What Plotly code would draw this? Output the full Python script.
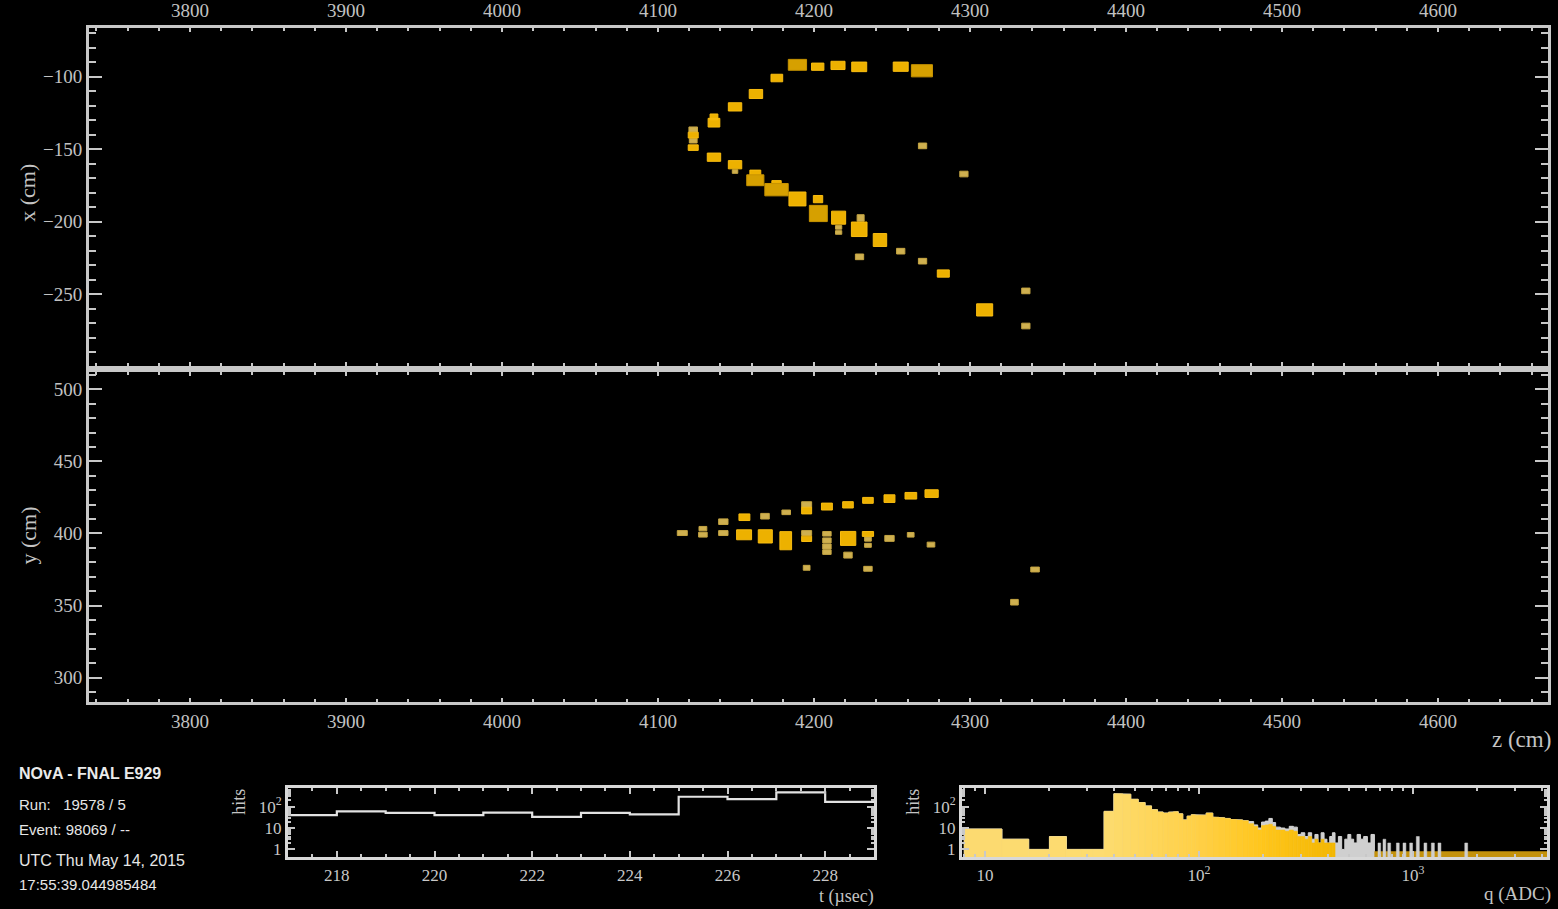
import plotly.graph_objects as go

W, H = 1558, 909

# ---------------- data ----------------
# XZ (top) view hits: z (cm), x (cm), cell size dz, dx (cm), charge level (0 low, 1 mid, 2 high)
xz_z = [4189.4, 4202.4, 4215.4, 4229.0, 4255.6, 4269.2, 4176.2, 4162.8, 4149.4, 4135.9,
        4135.9, 4122.6, 4122.6, 4122.6, 4122.6, 4135.9, 4149.4, 4149.4, 4162.4, 4162.4,
        4176.0, 4176.0, 4189.4, 4202.6, 4202.8, 4215.8, 4215.8, 4215.8, 4229.9, 4229.0,
        4242.3, 4255.6, 4229.2, 4269.6, 4282.9, 4309.4, 4335.8, 4335.8, 4269.6, 4296.1]
xz_x = [-91.9, -93.2, -92.3, -93.3, -93.2, -96.0, -101.0, -112.0, -120.9, -127.8,
        -131.8, -136.5, -140.4, -144.3, -149.0, -155.6, -160.8, -165.5, -166.5, -171.5,
        -173.5, -178.0, -184.4, -184.5, -194.4, -197.3, -204.0, -207.5, -197.5, -205.3,
        -212.7, -220.4, -224.3, -227.3, -235.8, -260.9, -247.8, -272.0, -147.8, -167.2]
xz_dz = [11.7, 7.9, 9.0, 9.6, 9.6, 13.5, 7.5, 8.6, 8.6, 5.0,
         7.5, 5.5, 6.4, 5.0, 6.4, 8.6, 8.6, 3.5, 7.0, 11.0,
         6.0, 15.0, 10.9, 6.0, 11.5, 9.0, 4.0, 4.0, 4.5, 10.0,
         8.6, 5.3, 5.3, 5.3, 7.7, 10.3, 5.3, 5.3, 5.3, 5.3]
xz_dx = [7.5, 5.0, 5.7, 6.6, 6.4, 8.4, 5.2, 6.2, 5.7, 4.0,
         6.0, 3.5, 4.0, 3.0, 3.8, 5.7, 5.7, 2.5, 4.0, 7.5,
         3.5, 8.5, 9.6, 5.0, 11.2, 9.0, 2.5, 2.5, 4.5, 10.0,
         8.9, 3.9, 3.9, 3.9, 5.0, 8.4, 3.9, 3.9, 3.9, 3.9]
xz_lvl = [2, 1, 1, 1, 1, 2, 1, 1, 1, 1,
          1, 0, 1, 0, 1, 1, 1, 0, 1, 2,
          1, 2, 1, 1, 2, 1, 0, 0, 0, 1,
          1, 0, 0, 0, 1, 1, 0, 0, 0, 0]

# YZ (bottom) view hits: z (cm), y (cm), dz, dy (cm), charge level
yz_z = [4115.6, 4128.8, 4128.8, 4141.9, 4141.9, 4155.4, 4155.2, 4168.6, 4168.8, 4182.2,
        4181.9, 4195.3, 4195.3, 4195.3, 4195.3, 4195.3, 4208.3, 4208.3, 4208.3, 4208.3,
        4208.3, 4221.8, 4221.9, 4221.8, 4234.6, 4234.6, 4234.6, 4234.6, 4234.6, 4248.4,
        4248.4, 4262.1, 4262.0, 4275.4, 4275.0, 4341.7, 4328.5]
yz_y = [400.3, 403.4, 399.2, 408.2, 400.3, 411.3, 399.1, 412.0, 398.0, 414.7,
        395.0, 420.1, 415.9, 400.3, 396.3, 376.2, 418.7, 399.8, 395.2, 391.0,
        387.1, 419.9, 396.6, 385.0, 423.0, 399.7, 396.1, 391.8, 375.5, 424.2,
        396.6, 426.2, 399.1, 427.7, 392.3, 375.0, 352.3]
yz_dz = [6.4, 5.0, 5.5, 6.0, 6.0, 7.0, 9.6, 5.5, 9.0, 5.5,
         7.5, 6.4, 6.4, 6.4, 6.4, 4.3, 7.0, 5.4, 5.4, 5.4,
         5.4, 6.8, 9.8, 5.4, 6.8, 7.2, 4.3, 4.3, 5.4, 7.0,
         6.0, 7.5, 4.3, 8.5, 4.9, 5.5, 4.9]
yz_dy = [3.4, 3.0, 3.4, 3.9, 3.4, 4.6, 6.9, 3.9, 9.2, 3.2,
         12.6, 3.9, 4.6, 3.4, 3.7, 3.4, 4.8, 3.2, 3.5, 3.5,
         3.2, 4.4, 9.7, 4.1, 4.1, 3.4, 2.8, 2.8, 3.4, 5.3,
         4.1, 4.6, 3.2, 5.3, 3.4, 3.4, 3.9]
yz_lvl = [0, 0, 0, 0, 0, 1, 1, 0, 1, 0,
          1, 0, 1, 0, 1, 0, 1, 0, 0, 0,
          0, 1, 1, 0, 1, 1, 0, 0, 0, 1,
          0, 1, 0, 1, 0, 0, 0]

# Time histogram (hits per 1 usec bin)
t_edges = [217, 218, 219, 220, 221, 222, 223, 224, 225, 226, 227, 228, 229]
t_counts = [40, 60, 51, 40, 52, 33, 51, 43, 290, 225, 460, 165]

# Charge histogram (ADC bins)
q_edges = [8, 12, 16, 20, 24, 28, 32, 36, 40, 44, 48, 52, 56, 60, 64, 68, 72, 76, 80, 84,
           88, 92, 96, 100, 108, 116, 124, 132, 140, 150, 160, 170, 180, 188, 196, 204, 212,
           220, 228, 240, 252, 264, 276, 288, 300, 312, 324, 336, 348, 360, 372, 384, 396,
           408, 420, 432, 448, 464, 480, 496, 512, 528, 548, 568, 588, 612, 636, 660]
q_counts = [9, 3, 1, 4, 1, 1, 1, 60, 400, 380, 220, 155, 108, 72, 56, 50, 55, 58, 46, 24,
            36, 42, 40, 40, 50, 32, 30, 28, 25, 24, 22, 20, 14, 10, 19, 21, 28,
            18, 11, 10, 9, 12, 11, 5, 6, 4, 6, 3, 5, 2, 6, 3,
            2, 4, 6, 2, 4, 1, 3, 5, 3, 2, 5, 3, 4, 2, 5]
q_counts_color = [9, 3, 1, 4, 1, 1, 1, 60, 400, 380, 220, 155, 108, 72, 56, 50, 55, 58, 46, 24,
                  36, 42, 40, 40, 50, 32, 30, 28, 25, 24, 22, 16, 12, 8, 13, 14, 15,
                  12, 8, 8, 7, 8, 7, 4, 4, 3, 4, 2, 3, 2, 3, 2,
                  2, 2, 2, 0, 0, 0, 0, 0, 0, 0, 0, 0, 0, 0, 0]
# sparse high-charge bins
q_spike_lo = [686, 724, 762, 836, 898, 965, 1036, 1125, 1218, 1308, 1745]
q_spike_hi = [706, 746, 786, 862, 926, 995, 1070, 1160, 1258, 1350, 1800]
q_spike_n = [2, 3, 2, 2, 2, 2, 4, 2, 2, 2, 2]
# saturated high-charge band
q_band_lo, q_band_hi, q_band_level = 660, 4400, 0.82

z_ticks = [3800, 3900, 4000, 4100, 4200, 4300, 4400, 4500, 4600]
x_ticks = [-250, -200, -150, -100]
y_ticks = [300, 350, 400, 450, 500]
t_ticks = [218, 220, 222, 224, 226, 228]

# ---------------- helpers ----------------
def xdom(a, b):
    return [a / W, b / W]

def ydom(top, bot):
    return [1 - bot / H, 1 - top / H]

lvl_fill = ['#CFB050', '#EDB100', '#D6A000']
lvl_line = ['#C4A442', '#F8BC10', '#C89400']

def hit_traces(zs, vs, dzs, dvs, lvls, xref, yref):
    out = []
    for L in range(3):
        xs, ys = [], []
        for z, v, dz, dv, l in zip(zs, vs, dzs, dvs, lvls):
            if l != L:
                continue
            xs += [z - dz / 2, z + dz / 2, z + dz / 2, z - dz / 2, z - dz / 2, None]
            ys += [v - dv / 2, v - dv / 2, v + dv / 2, v + dv / 2, v - dv / 2, None]
        out.append(go.Scatter(x=xs, y=ys, xaxis=xref, yaxis=yref, mode='lines',
                              fill='toself', fillcolor=lvl_fill[L],
                              line=dict(color=lvl_line[L], width=1),
                              hoverinfo='skip', showlegend=False))
    return out

def qcolor(q):
    import math
    lq = math.log10(q)
    stops = [(0.85, (252, 218, 112)), (1.55, (253, 220, 112)), (2.0, (255, 208, 70)),
             (2.3, (255, 198, 28)), (2.65, (243, 182, 0))]
    if lq <= stops[0][0]:
        c = stops[0][1]
    elif lq >= stops[-1][0]:
        c = stops[-1][1]
    else:
        for (a, ca), (b, cb) in zip(stops[:-1], stops[1:]):
            if a <= lq <= b:
                f = (lq - a) / (b - a)
                c = tuple(int(round(ca[i] + f * (cb[i] - ca[i]))) for i in range(3))
                break
    return 'rgb(%d,%d,%d)' % c

FLOOR = 0.05

fig = go.Figure()

# main views
for tr in hit_traces(xz_z, xz_x, xz_dz, xz_dx, xz_lvl, 'x', 'y'):
    fig.add_trace(tr)
for tr in hit_traces(yz_z, yz_y, yz_dz, yz_dy, yz_lvl, 'x2', 'y2'):
    fig.add_trace(tr)

# time histogram
fig.add_trace(go.Scatter(x=t_edges, y=t_counts + [t_counts[-1]], xaxis='x3', yaxis='y3',
                         mode='lines', line=dict(color='#E2E2E2', width=2.2, shape='hv'),
                         hoverinfo='skip', showlegend=False))

# charge histogram: gray envelope
gx, gy = [q_edges[0]], [FLOOR]
for i, c in enumerate(q_counts):
    gx += [q_edges[i], q_edges[i + 1]]
    gy += [c, c]
gx.append(q_edges[-1]); gy.append(FLOOR)
gx.append(q_edges[0]); gy.append(FLOOR)
fig.add_trace(go.Scatter(x=gx, y=gy, xaxis='x4', yaxis='y4', mode='lines', fill='toself',
                         fillcolor='#CFCFCF', line=dict(color='#D4D4D4', width=1),
                         hoverinfo='skip', showlegend=False))

# saturated band
fig.add_trace(go.Scatter(x=[q_band_lo, q_band_hi, q_band_hi, q_band_lo, q_band_lo],
                         y=[FLOOR, FLOOR, q_band_level, q_band_level, FLOOR],
                         xaxis='x4', yaxis='y4', mode='lines', fill='toself',
                         fillcolor='#C4920C', line=dict(color='#C4920C', width=0),
                         hoverinfo='skip', showlegend=False))
# sparse spikes
sx, sy = [], []
for lo, hi, n in zip(q_spike_lo, q_spike_hi, q_spike_n):
    sx += [lo, hi, hi, lo, lo, None]
    sy += [FLOOR, FLOOR, n, n, FLOOR, None]
fig.add_trace(go.Scatter(x=sx, y=sy, xaxis='x4', yaxis='y4', mode='lines', fill='toself',
                         fillcolor='#CFCFCF', line=dict(color='#CFCFCF', width=0.5),
                         hoverinfo='skip', showlegend=False))

# coloured bins
for i, c in enumerate(q_counts_color):
    if c <= 0:
        continue
    lo, hi = q_edges[i], q_edges[i + 1]
    col = qcolor((lo * hi) ** 0.5)
    fig.add_trace(go.Scatter(x=[lo, hi, hi, lo, lo], y=[FLOOR, FLOOR, c, c, FLOOR],
                             xaxis='x4', yaxis='y4', mode='lines', fill='toself',
                             fillcolor=col, line=dict(color=col, width=0.6),
                             hoverinfo='skip', showlegend=False))

# ---------------- axes ----------------
AX = '#C8C8C8'
serif = 'Liberation Serif'
tf_main = dict(family=serif, size=19, color='#C2C2C2')
tf_small = dict(family=serif, size=17, color='#C8C8C8')

def base(**kw):
    d = dict(showline=True, linecolor=AX, linewidth=3, mirror='allticks', ticks='inside',
             tickcolor=AX, tickwidth=2, showgrid=False, zeroline=False, fixedrange=True)
    d.update(kw)
    return d

zrange = [3735.3, 4670.5]
layout_axes = dict(
    xaxis=base(domain=xdom(89, 1548), range=zrange, anchor='y', side='top',
               tickvals=z_ticks, ticklen=4, tickfont=tf_main,
               minor=dict(dtick=20, tick0=0, ticks='inside', ticklen=3, tickcolor=AX, tickwidth=2)),
    yaxis=base(domain=ydom(24, 364), range=[-299.3, -66.4], anchor='x',
               tickvals=x_ticks, ticklen=13, tickfont=tf_main,
               minor=dict(dtick=10, tick0=0, ticks='inside', ticklen=7, tickcolor=AX, tickwidth=2)),
    xaxis2=base(domain=xdom(89, 1548), range=zrange, anchor='y2', side='bottom',
                tickvals=z_ticks, ticklen=4, tickfont=tf_main,
                minor=dict(dtick=20, tick0=0, ticks='inside', ticklen=3, tickcolor=AX, tickwidth=2)),
    yaxis2=base(domain=ydom(370, 703), range=[282.8, 512.4], anchor='x2',
                tickvals=y_ticks, ticklen=13, tickfont=tf_main,
                minor=dict(dtick=10, tick0=0, ticks='inside', ticklen=7, tickcolor=AX, tickwidth=2)),
    xaxis3=base(domain=xdom(288, 874), range=[217, 229], anchor='y3',
                tickvals=t_ticks, ticklen=6, tickfont=tf_small, linecolor='#D8D8D8',
                minor=dict(dtick=0.5, tick0=217, ticks='inside', ticklen=3, tickcolor=AX, tickwidth=2)),
    yaxis3=base(domain=ydom(789, 859), type='log', range=[-0.37, 2.88], anchor='x3',
                tickvals=[1, 10, 100], ticktext=['1', '10', '10<sup>2</sup>'], ticklen=7,
                tickfont=tf_small, linecolor='#D8D8D8',
                minor=dict(tickvals=[2, 3, 4, 5, 6, 7, 8, 9, 20, 30, 40, 50, 60, 70, 80, 90,
                                     200, 300, 400, 500, 600, 700],
                           ticks='inside', ticklen=3, tickcolor=AX, tickwidth=2)),
    xaxis4=base(domain=xdom(962, 1547), type='log', range=[0.8925, 3.626], anchor='y4',
                tickvals=[10, 100, 1000], ticktext=['10', '10<sup>2</sup>', '10<sup>3</sup>'],
                ticklen=6, tickfont=tf_small, linecolor='#D8D8D8',
                minor=dict(tickvals=[8, 9, 20, 30, 40, 50, 60, 70, 80, 90, 200, 300, 400, 500,
                                     600, 700, 800, 900, 2000, 3000, 4000],
                           ticks='inside', ticklen=3, tickcolor=AX, tickwidth=2)),
    yaxis4=base(domain=ydom(789, 859), type='log', range=[-0.37, 2.88], anchor='x4',
                tickvals=[1, 10, 100], ticktext=['1', '10', '10<sup>2</sup>'], ticklen=7,
                tickfont=tf_small, linecolor='#D8D8D8',
                minor=dict(tickvals=[2, 3, 4, 5, 6, 7, 8, 9, 20, 30, 40, 50, 60, 70, 80, 90,
                                     200, 300, 400, 500, 600, 700],
                           ticks='inside', ticklen=3, tickcolor=AX, tickwidth=2)),
)

# ---------------- text ----------------
def ann(text, px, py, size, family=serif, color='#C4C4C4', angle=0, xanchor='center', bold=False):
    return dict(text=('<b>%s</b>' % text) if bold else text, x=px / W, y=1 - py / H,
                xref='paper', yref='paper', showarrow=False, textangle=angle,
                xanchor=xanchor, yanchor='middle', font=dict(family=family, size=size, color=color))

sans = 'Liberation Sans'
annotations = [
    ann('x (cm)', 28, 190, 22, angle=-90),
    ann('y (cm)', 28, 535, 22, angle=-90),
    ann('z (cm)', 1553, 740, 23, xanchor='right'),
    ann('t (\u00b5sec)', 876, 898, 18, xanchor='right'),
    ann('q (ADC)', 1553, 896, 19, xanchor='right'),
    ann('hits', 239, 803, 18, angle=-90),
    ann('hits', 913, 803, 18, angle=-90),
    ann('NOvA - FNAL E929', 17, 775, 16, family=sans, color='#EAEAEA', xanchor='left', bold=True),
    ann('Run:\u00a0\u00a0\u00a019578 / 5', 17, 806, 15, family=sans, color='#E6E6E6', xanchor='left'),
    ann('Event: 98069 / --', 17, 831, 15, family=sans, color='#E6E6E6', xanchor='left'),
    ann('UTC Thu May 14, 2015', 17, 862, 16, family=sans, color='#E6E6E6', xanchor='left'),
    ann('17:55:39.044985484', 17, 886, 15, family=sans, color='#E6E6E6', xanchor='left'),
]

fig.update_layout(
    width=W, height=H, margin=dict(l=0, r=0, t=0, b=0),
    paper_bgcolor='black', plot_bgcolor='black', showlegend=False,
    hovermode=False, annotations=annotations, **layout_axes)

fig.write_html('out.html', config=dict(displayModeBar=False))
